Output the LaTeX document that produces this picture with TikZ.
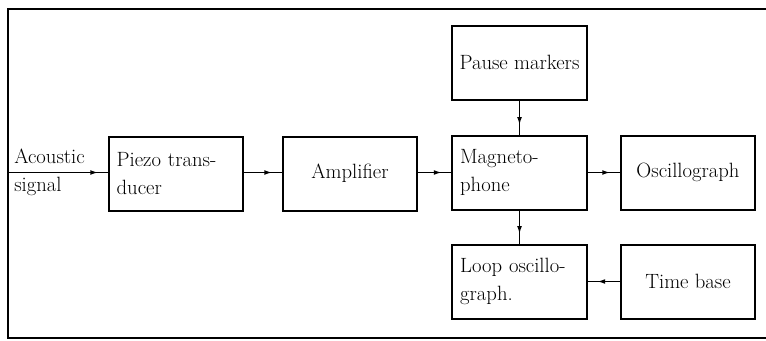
\documentclass[tikz,border=0pt]{standalone}
\usetikzlibrary{arrows.meta}
\usetikzlibrary{decorations.markings}

\tikzset{
  blockbox/.style={draw, line width=1.5pt, minimum width=101pt, minimum height=55.5pt, inner xsep=6pt, inner ysep=3pt},
  leftbox/.style={blockbox, text width=89pt, align=left},
  link/.style={line width=1.1pt, postaction={decorate}, decoration={markings, mark=at position -7pt with {\arrow{Latex[length=6pt,width=3.6pt]}}}}
}

\begin{document}
\begin{tikzpicture}[x=0.75pt,y=0.75pt,yscale=-1,xscale=1, font=\fontsize{15.5}{21}\selectfont]
\useasboundingbox (0,0) rectangle (766,340);

%Shape: Frame
\draw [line width=1.2pt] (766,9) -- (8,9) -- (8,338) -- (766,338) ;

%Shape: Rectangle
\node [leftbox] (piezo) at (176,173.5) {Piezo trans-\\ducer};
%Shape: Rectangle
\node [blockbox] (amp) at (350,173.5) {Amplifier};
%Shape: Rectangle
\node [leftbox] (magneto) at (519.5,172.5) {Magneto-\\phone};
%Shape: Rectangle
\node [blockbox] (pause) at (519.5,62.5) {Pause markers};
%Shape: Rectangle
\node [blockbox] (osc) at (688,172.5) {Oscillograph};
%Shape: Rectangle
\node [leftbox] (loop) at (519.5,281.5) {Loop oscillo-\\graph.};
%Shape: Rectangle
\node [blockbox] (timebase) at (688,281.5) {Time base};

% Text Node
\coordinate (src) at (8,172.5);
\node [anchor=west, align=left, inner sep=0pt] (acoustic) at (14,172.5) {Acoustic\\signal};

%Straight Lines
\draw [link] (src) -- (piezo.west |- src) ;
\draw [link] (piezo.east |- src) -- (amp.west |- src) ;
\draw [link] (amp.east |- src) -- (magneto.west |- src) ;
\draw [link] (magneto) -- (osc) ;
\draw [link] (pause) -- (magneto) ;
\draw [link] (magneto) -- (loop) ;
\draw [link] (timebase) -- (loop) ;

\end{tikzpicture}
\end{document}
